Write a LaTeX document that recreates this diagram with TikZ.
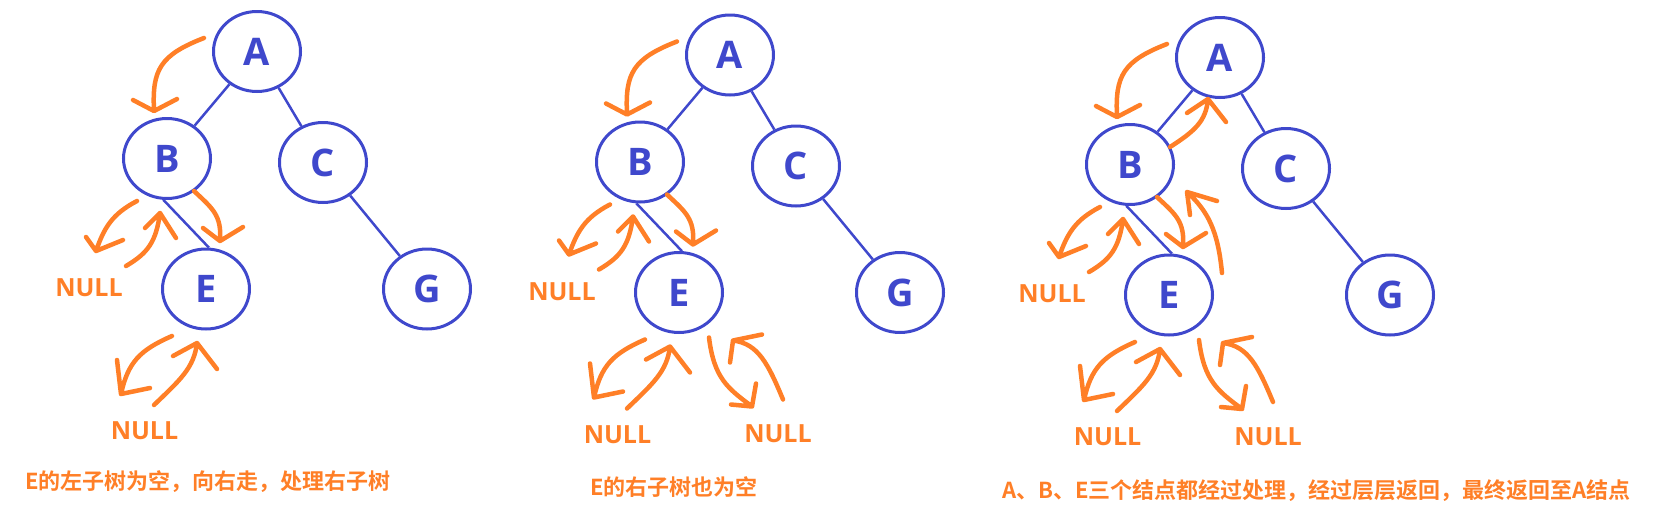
\documentclass[tikz,border=0pt]{standalone}
\usepackage{fontspec}
\setmainfont{Open Sans}
\newfontfamily\cjk{Noto Sans CJK SC}[BoldFont={Noto Sans CJK SC Bold}]
\usepackage{xcolor}
\usepackage{tikz}
\usetikzlibrary{shapes.geometric}
\definecolor{treeblue}{HTML}{3F48CC}
\definecolor{penorange}{HTML}{FF7F27}
\tikzset{
  tnode/.style={ellipse,draw=treeblue,line width=3pt,minimum width=87pt,minimum height=80pt,
    inner sep=0pt,text=treeblue,font=\fontsize{38}{38}\selectfont\bfseries},
  treeline/.style={treeblue,line width=2.5pt},
  penline/.style={penorange,line width=4.5pt,line cap=round,line join=round},
  nulltxt/.style={text=penorange,inner sep=0pt,font=\fontsize{25}{25}\selectfont\bfseries},
  capt/.style={anchor=west,text=penorange,inner sep=0pt,font=\cjk\fontsize{22}{22}\selectfont\bfseries}
}

\begin{document}
\begin{tikzpicture}[x=1pt,y=-1pt]
  \useasboundingbox(0,0)rectangle(1660,531);
  % the three snapshots of the same tree
  \foreach \dx/\dy/\p in {0/0/1,473/3.5/2,963/6/3}{
    \begin{scope}[shift={(\dx,\dy)}]
      \node[tnode](A\p)at(257,51.5){A};
      \node[tnode](B\p)at(167,158.5){B};
      \node[tnode](C\p)at(323,162.5){C};
      \node[tnode](E\p)at(206,289){E};
      \node[tnode](G\p)at(427,289){G};
      \draw[treeline](A\p)--(B\p) (A\p)--(C\p) (C\p)--(G\p) (B\p.265)--(E\p.86);
      \node[nulltxt](nl\p)at(89,288){NULL};
      \node[nulltxt](nb\p)at(144.5,431){NULL};
      \draw[penline](204,38)..controls(160,55)and(152,70)..(154,110) (133,100)--(154,111)--(177,99);
      \draw[penline](137,201)..controls(112,214)and(104,228)..(96,251) (86,237)--(96,251)--(123,240);
      \draw[penline](126,266)..controls(148,253)and(156,242)..(160,213) (145,228)--(160,213)--(176,238);
      \draw[penline](194,191)..controls(212,208)and(222,215)..(220,241) (203,228)--(220,241)--(243,227);
      \draw[penline](172,336)..controls(140,350)and(128,362)..(121,394) (117,360)--(121,394)--(150,388);
      \draw[penline](154,405)..controls(180,380)and(194,368)..(197,343) (173,356)--(197,343)--(217,369);
    \end{scope}}
  % right subtree of E
  \foreach \dx/\dy/\p in {473/3.5/2,963/6/3}{
    \begin{scope}[shift={(\dx,\dy)}]
      \node[nulltxt](nr\p)at(305,430.5){NULL};
      \draw[penline](236,334)..controls(241,375)and(255,385)..(279,403) (283,380)--(279,403)--(258,401);
      \draw[penline](310,396)..controls(295,360)and(285,340)..(260,337) (257,359)--(260,337)--(289,331);
    \end{scope}}
  % back up to A
  \begin{scope}[shift={(963,6)}]
    \draw[penline](207,141)..controls(232,125)and(243,115)..(245,93) (224,107)--(245,93)--(263,116);
    \draw[penline](259,267)..controls(255,225)and(245,205)..(224,186) (227,209)--(224,186)--(254,195);
  \end{scope}
  \node[capt](cap1)at(25,482){E的左子树为空，向右走，处理右子树};
  \node[capt](cap2)at(590,487){E的右子树也为空};
  \node[capt](cap3)at(1002,491){A、B、E三个结点都经过处理，经过层层返回，最终返回至A结点};
\end{tikzpicture}
\end{document}
